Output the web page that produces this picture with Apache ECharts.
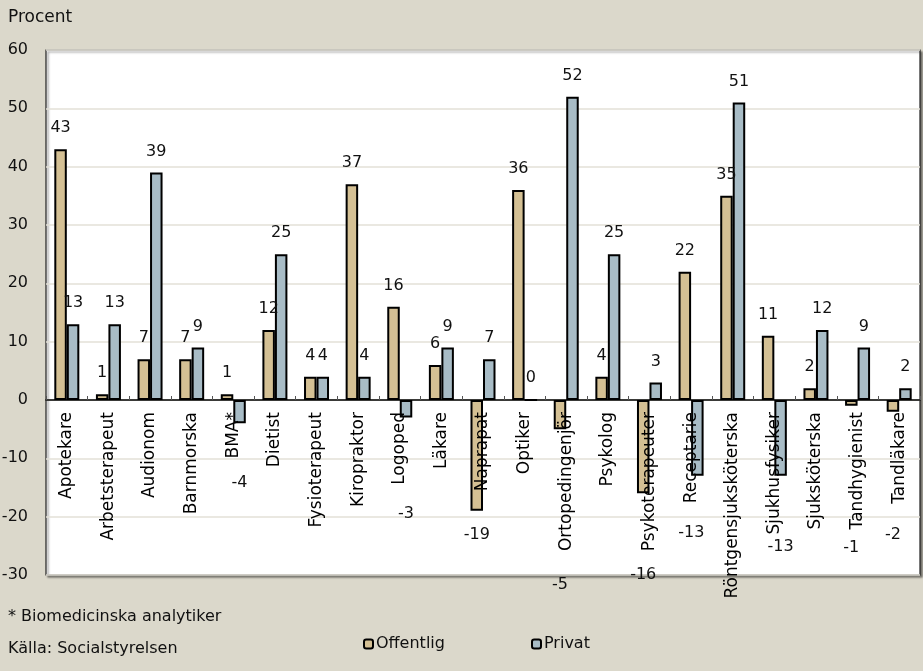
<!DOCTYPE html>
<html>
<head>
<meta charset="utf-8">
<script src="https://cdn.jsdelivr.net/npm/echarts@6/dist/echarts.min.js"></script>
<style>
  html, body { margin: 0; padding: 0; background: #dbd8cb; }
  #chart { width: 923px; height: 671px; }
</style>
</head>
<body>
<div id="chart"></div>
<script>
// Förändring i procent per yrke, offentlig resp. privat sektor
const categories = [
  'Apotekare', 'Arbetsterapeut', 'Audionom', 'Barnmorska', 'BMA*', 'Dietist',
  'Fysioterapeut', 'Kiropraktor', 'Logoped', 'Läkare', 'Naprapat', 'Optiker',
  'Ortopedingenjör', 'Psykolog', 'Psykoterapeuter', 'Receptarie',
  'Röntgensjuksköterska', 'Sjukhusfysiker', 'Sjuksköterska', 'Tandhygienist', 'Tandläkare'
];
const offentlig = [43, 1, 7, 7, 1, 12, 4, 37, 16, 6, -19, 36, -5, 4, -16, 22, 35, 11, 2, -1, -2];
const privat    = [13, 13, 39, 9, -4, 25, 4, 4, -3, 9, 7, 0, 52, 25, 3, -13, 51, -13, 12, 9, 2];

const yMin = -30, yMax = 60, yStep = 10;

// Plot box in pixels
const GRID = { left: 46, right: 3, top: 50, bottom: 96 };
const plotHeight = 671 - GRID.top - GRID.bottom;
// Category axis sits on the zero line: shift it up from the bottom edge
const zeroShift = -plotHeight * (0 - yMin) / (yMax - yMin);

// Where the value labels of negative bars sit below the bar end (px)
const negLabelDrop = {
  offentlig: { 'Naprapat': 16, 'Ortopedingenjör': 148, 'Psykoterapeuter': 74, 'Tandhygienist': 134, 'Tandläkare': 115 },
  privat: { 'BMA*': 52, 'Logoped': 88, 'Receptarie': 49, 'Sjukhusfysiker': 63 }
};
const negLabelShift = { privat: { 'Receptarie': -6 } };

const FONT = 'DejaVu Sans';

function barData(values, key) {
  return values.map(function (v, i) {
    const cat = categories[i];
    if (v < 0) {
      const drop = (negLabelDrop[key] && negLabelDrop[key][cat]) || 14;
      const dx = (negLabelShift[key] && negLabelShift[key][cat]) || 0;
      return { value: v, label: { position: 'bottom', distance: drop, offset: [dx, 0] } };
    }
    return { value: v, label: { position: 'top', distance: 13 } };
  });
}

const chart = echarts.init(document.getElementById('chart'), null, { renderer: 'canvas' });

chart.setOption({
  backgroundColor: '#dbd8cb',
  animation: false,
  textStyle: { fontFamily: FONT },
  grid: {
    left: GRID.left, right: GRID.right, top: GRID.top, bottom: GRID.bottom,
    containLabel: false,
    outerBoundsMode: 'none',
    show: true,
    backgroundColor: '#ffffff',
    borderColor: '#222',
    borderWidth: 1.2,
    shadowColor: 'rgba(0,0,0,0.45)',
    shadowBlur: 2,
    shadowOffsetX: 2,
    shadowOffsetY: 2
  },
  graphic: [
    { type: 'text', left: 8, top: 9, style: { text: 'Procent', font: '17px "DejaVu Sans"', fill: '#111' } },
    { type: 'text', left: 8, top: 609, style: { text: '* Biomedicinska analytiker', font: '16px "DejaVu Sans"', fill: '#111' } },
    { type: 'text', left: 8, top: 641, style: { text: 'Källa: Socialstyrelsen', font: '16px "DejaVu Sans"', fill: '#111' } }
  ],
  legend: [
    {
      data: ['Offentlig'], left: 358, top: 631,
      itemWidth: 9, itemHeight: 9, itemGap: 4,
      textStyle: { fontFamily: FONT, fontSize: 16, color: '#111', padding: [0, 0, 0, -2] },
      itemStyle: { borderColor: '#000', borderWidth: 2 }
    },
    {
      data: ['Privat'], left: 526, top: 631,
      itemWidth: 9, itemHeight: 9, itemGap: 4,
      textStyle: { fontFamily: FONT, fontSize: 16, color: '#111', padding: [0, 0, 0, -2] },
      itemStyle: { borderColor: '#000', borderWidth: 2 }
    }
  ],
  xAxis: {
    type: 'category',
    data: categories,
    z: 10,
    offset: zeroShift,
    axisLine: { onZero: false, lineStyle: { color: '#000', width: 1.5 } },
    axisTick: { show: true, inside: true, length: 4, alignWithLabel: false, lineStyle: { color: '#555', width: 1 } },
    axisLabel: {
      interval: 0, rotate: 90, margin: 12,
      fontFamily: FONT, fontSize: 17, color: '#000'
    },
    splitLine: { show: false }
  },
  yAxis: {
    type: 'value',
    min: yMin, max: yMax, interval: yStep,
    axisLine: { show: false },
    axisTick: { show: false },
    axisLabel: { margin: 18, fontFamily: FONT, fontSize: 16, color: '#111' },
    splitLine: { show: true, lineStyle: { color: '#e3e0d7', width: 1.5 } }
  },
  series: [
    {
      name: 'Offentlig',
      type: 'bar',
      data: barData(offentlig, 'offentlig'),
      barWidth: 12.5,
      barGap: '0%',
      itemStyle: { color: '#d4c094', borderColor: '#000', borderWidth: 2 },
      label: { show: true, fontFamily: FONT, fontSize: 16, color: '#111' },
      z: 3
    },
    {
      name: 'Privat',
      type: 'bar',
      data: barData(privat, 'privat'),
      barWidth: 12.5,
      barGap: '0%',
      itemStyle: { color: '#a8bcc6', borderColor: '#000', borderWidth: 2 },
      label: { show: true, fontFamily: FONT, fontSize: 16, color: '#111' },
      z: 3
    }
  ]
});
</script>
</body>
</html>
